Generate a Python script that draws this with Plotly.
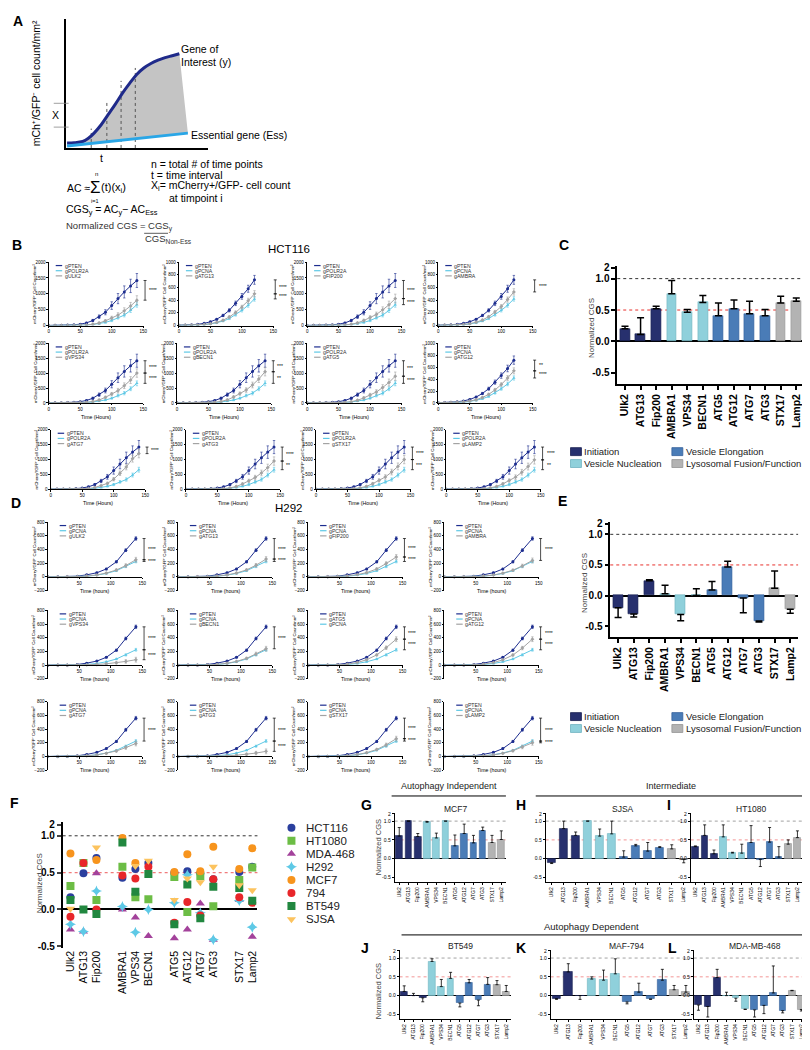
import plotly.graph_objects as go

W, H = 810, 1050
FONT = "Liberation Sans, Arial, Helvetica, sans-serif"

# ============================ DATA ============================
GENES = ["Ulk2", "ATG13", "Fip200", "AMBRA1", "VPS34", "BECN1",
         "ATG5", "ATG12", "ATG7", "ATG3", "STX17", "Lamp2"]
GENE_GROUP = [0, 0, 0, 1, 1, 1, 2, 2, 2, 2, 3, 3]
GROUP_NAMES = ["Initiation", "Vesicle Nucleation", "Vesicle Elongation", "Lysosomal Fusion/Function"]
GROUP_COLORS = ["#27306e", "#8fd0db", "#4a7cb7", "#b3b3b3"]
GROUP_EDGES = ["#1a2152", "#6fb3c0", "#33609a", "#939393"]

# Panel A schematic
A_GENE_X = [0.1, 0.6, 1.2, 1.6, 2.0, 2.5, 3.0, 3.5, 4.0, 4.5, 5.0, 5.5, 6.0, 6.5, 7.0, 7.5, 8.0]
A_GENE_Y = [0.38, 0.40, 0.50, 0.75, 1.15, 1.80, 2.60, 3.40, 4.25, 5.00, 5.70, 6.20, 6.55, 6.80, 7.00, 7.15, 7.30]
A_ESS_X = [0.1, 8.6]
A_ESS_Y = [0.15, 1.15]
A_STEP_X = [1.8, 2.9, 3.9, 4.9]
A_STEP_TOP = [1.5, 3.5, 5.2, 6.2]

# Panel B: HCT116 growth curves (cells/mm2)
T_HCT = [0, 10, 20, 30, 40, 50, 60, 70, 80, 90, 100, 110, 120, 130, 140]
HCT_PTEN = [5, 8, 10, 15, 25, 45, 85, 160, 280, 420, 630, 850, 1060, 1250, 1420]
HCT_PTEN_ERR = [3, 3, 4, 5, 8, 12, 20, 35, 55, 80, 120, 160, 190, 210, 220]
HCT_POLR2A = [2, 2, 3, 5, 8, 12, 20, 35, 60, 100, 160, 250, 330, 480, 660]
HCT_POLR2A_ERR = [2, 2, 2, 3, 4, 5, 6, 10, 15, 25, 35, 45, 55, 65, 80]
HCT_GENE_ERR = [2, 2, 3, 3, 4, 6, 10, 18, 28, 40, 55, 75, 95, 115, 140]
HCT_ULK2 = [3, 3, 4, 6, 8, 12, 20, 40, 80, 150, 240, 330, 465, 615, 800]
HCT_FIP200 = [3, 3, 4, 6, 9, 13, 21, 42, 85, 160, 255, 350, 495, 655, 850]
HCT_VPS34 = [3, 4, 5, 7, 10, 15, 25, 50, 100, 190, 300, 415, 580, 770, 1005]
HCT_BECN1 = [3, 4, 5, 7, 10, 16, 26, 52, 105, 200, 315, 435, 605, 805, 1050]
HCT_ATG5 = [3, 4, 5, 6, 9, 13, 22, 45, 90, 170, 270, 370, 520, 690, 900]
HCT_ATG7 = [3, 4, 5, 7, 11, 17, 30, 60, 120, 200, 340, 540, 750, 1030, 1200]
HCT_ATG3 = [3, 4, 5, 7, 10, 14, 24, 47, 95, 180, 285, 395, 550, 730, 950]
HCT_STX17 = [3, 4, 5, 7, 10, 15, 25, 50, 100, 190, 300, 415, 580, 770, 1000]
HCT_LAMP2 = [3, 4, 5, 7, 10, 15, 25, 50, 98, 185, 295, 410, 575, 765, 990]

T_HCT_P = [0, 10, 20, 30, 40, 50, 60, 70, 80, 90, 100, 110, 120]
HCT_PTEN_P = [5, 8, 12, 20, 35, 60, 100, 160, 240, 350, 460, 580, 720]
HCT_PTEN_P_ERR = [3, 3, 3, 4, 5, 8, 12, 18, 25, 35, 45, 55, 70]
HCT_PCNA = [3, 4, 6, 9, 15, 25, 42, 70, 110, 170, 240, 320, 420]
HCT_PCNA_ERR = [2, 2, 2, 3, 4, 5, 7, 10, 15, 20, 25, 30, 35]
HCT_GENE_P_ERR = [2, 2, 3, 3, 4, 6, 8, 12, 18, 25, 30, 40, 50]
HCT_ATG13_P = [4, 5, 7, 11, 18, 30, 50, 85, 135, 205, 290, 390, 500]
HCT_AMBRA_P = [4, 5, 7, 11, 18, 30, 52, 88, 140, 215, 300, 410, 530]
HCT_ATG12_P = [4, 5, 8, 12, 20, 33, 55, 92, 145, 220, 310, 420, 540]

# (control, gene, significance upper, significance lower)
B_SPEC = [
    ("gPOLR2A", "gULK2", "****", ""), ("gPCNA", "gATG13", "****", "****"),
    ("gPOLR2A", "gFIP200", "****", "****"), ("gPCNA", "gAMBRA", "****", ""),
    ("gPOLR2A", "gVPS34", "****", "****"), ("gPOLR2A", "gBECN1", "***", "**"),
    ("gPOLR2A", "gATG5", "***", "****"), ("gPCNA", "gATG12", "**", "****"),
    ("gPOLR2A", "gATG7", "****", ""), ("gPOLR2A", "gATG3", "****", "**"),
    ("gPOLR2A", "gSTX17", "****", "***"), ("gPOLR2A", "gLAMP2", "****", "**"),
]
HCT_GENE_DATA = {"gULK2": HCT_ULK2, "gFIP200": HCT_FIP200, "gVPS34": HCT_VPS34, "gBECN1": HCT_BECN1,
                 "gATG5": HCT_ATG5, "gATG7": HCT_ATG7, "gATG3": HCT_ATG3, "gSTX17": HCT_STX17,
                 "gLAMP2": HCT_LAMP2, "gATG13": HCT_ATG13_P, "gAMBRA": HCT_AMBRA_P, "gATG12": HCT_ATG12_P}

# Panel D: H292 growth curves
T_H292 = [0, 16, 31, 47, 62, 78, 93, 109, 124, 140]
H_PTEN = [0, 1, 3, 10, 30, 60, 115, 220, 390, 560]
H_PTEN_ERR = [2, 2, 3, 4, 6, 8, 10, 15, 20, 25]
H_PCNA = [0, 0, 1, 4, 10, 25, 50, 90, 150, 225]
H_PCNA_ERR = [2, 2, 2, 3, 4, 5, 8, 10, 15, 20]
H_GENE_ERR = [2, 2, 2, 3, 4, 6, 10, 15, 25, 35]
H_ULK2 = [0, 0, 1, 4, 12, 28, 55, 100, 165, 250]
H_ATG13 = [0, 0, 1, 4, 12, 28, 56, 102, 170, 260]
H_FIP200 = [0, 0, 2, 5, 14, 32, 62, 115, 195, 290]
H_AMBRA = [0, 0, 1, 4, 12, 27, 54, 98, 160, 240]
H_VPS34 = [0, 0, 0, 2, 5, 10, 20, 35, 55, 80]
H_BECN1 = [0, 0, 1, 4, 12, 28, 55, 100, 165, 240]
H_ATG5 = [0, 0, 1, 5, 15, 38, 80, 150, 255, 380]
H_ATG12 = [0, 0, 1, 5, 15, 38, 78, 148, 250, 380]
H_ATG7 = [0, 0, 1, 3, 10, 22, 45, 80, 130, 190]
H_ATG3 = [0, 0, 0, 2, 5, 10, 18, 32, 50, 75]
H_STX17 = [0, 0, 1, 4, 12, 28, 56, 102, 170, 260]
H_LAMP2 = [0, 0, 1, 3, 10, 23, 46, 84, 138, 200]
D_SPEC = [
    ("gULK2", "****", "****"), ("gATG13", "****", "****"), ("gFIP200", "****", "****"), ("gAMBRA", "****", ""),
    ("gVPS34", "****", "****"), ("gBECN1", "****", ""), ("gATG5", "****", "****"), ("gATG12", "****", "****"),
    ("gATG7", "****", ""), ("gATG3", "****", "****"), ("gSTX17", "****", "****"), ("gLAMP2", "****", "****"),
]
H_GENE_DATA = {"gULK2": H_ULK2, "gATG13": H_ATG13, "gFIP200": H_FIP200, "gAMBRA": H_AMBRA,
               "gVPS34": H_VPS34, "gBECN1": H_BECN1, "gATG5": H_ATG5, "gATG12": H_ATG12,
               "gATG7": H_ATG7, "gATG3": H_ATG3, "gSTX17": H_STX17, "gLAMP2": H_LAMP2}

# Panel C (HCT116) and E (H292): normalized CGS; error sign = direction
C_VAL = [0.20, 0.11, 0.52, 0.76, 0.465, 0.62, 0.41, 0.52, 0.44, 0.41, 0.61, 0.64]
C_ERR = [0.04, 0.265, 0.04, 0.21, 0.045, 0.11, 0.20, 0.14, 0.20, 0.10, 0.11, 0.05]
E_VAL = [-0.20, -0.30, 0.24, 0.03, -0.31, 0.0, 0.09, 0.465, -0.04, -0.415, 0.12, -0.225]
E_ERR = [-0.16, -0.05, 0.02, 0.14, -0.10, 0.11, 0.14, 0.095, -0.24, -0.015, 0.28, -0.065]

# Panel F: normalized CGS per cell line
F_LINES = ["HCT116", "HT1080", "MDA-468", "H292", "MCF7", "794", "BT549", "SJSA"]
F_HCT116 = [0.165, 0.49, 0.70, 0.43, 0.55, 0.63, 0.50, 0.52, 0.49, 0.41, 0.51, 0.58]
F_HT1080 = [0.32, 0.63, 0.13, 0.58, 0.165, 0.14, 0.44, -0.035, 0.45, 0.045, 0.40, 0.57]
F_MDA468 = [-0.27, -0.30, 0.49, 0.0, -0.11, -0.36, -0.39, -0.27, 0.08, -0.41, 0.13, -0.37]
F_H292 = [-0.20, -0.30, 0.25, 0.04, -0.31, 0.0, 0.09, 0.47, -0.045, -0.41, 0.12, -0.24]
F_MCF7 = [0.76, None, 0.67, 0.97, 0.63, None, 0.51, 0.75, 0.52, 0.85, 0.55, 0.83]
F_794 = [-0.10, 0.63, 0.0, 0.46, 0.42, 0.58, -0.18, 0.10, -0.08, 0.41, 0.165, 0.09]
F_BT549 = [0.13, 0.0, -0.06, 0.91, 0.24, 0.48, -0.20, 0.34, -0.12, 0.31, 0.29, 0.12]
F_SJSA = [0.01, None, 0.84, None, 0.59, 0.66, 0.13, 0.42, 0.37, 0.58, 0.33, 0.26]
F_COLORS = ["#2b3f9e", "#6cbd45", "#a3429b", "#5ec9e6", "#f7941d", "#e8262a", "#21873f", "#fcc35e"]
F_SYMBOLS = ["circle", "square", "triangle-up", "star-diamond", "circle", "circle", "square", "triangle-down"]

# Panels G-L
G_VAL = [0.60, 1.0, 0.59, 0.97, 0.55, 1.0, 0.34, 0.67, 0.42, 0.75, 0.43, 0.51]
G_ERR = [0.23, 0.0, 0.08, 0.02, 0.13, 0.0, 0.29, 0.25, 0.20, 0.09, 0.19, 0.23]
H_VAL = [-0.11, 0.80, 0.62, 1.0, 0.60, 0.66, 0.04, 0.34, 0.20, 0.30, 0.26, -0.02]
H_ERR = [-0.02, 0.20, 0.09, 0.0, 0.19, 0.34, 0.17, 0.04, 0.23, 0.02, 0.11, -0.09]
I_VAL = [0.32, 0.62, 0.13, 0.58, 0.15, 0.145, 0.43, -0.02, 0.44, 0.04, 0.385, 0.56]
I_ERR = [0.02, 0.28, 0.10, 0.32, 0.02, 0.24, 0.45, -0.19, 0.39, 0.28, 0.115, 0.18]
J_VAL = [0.11, 0.0, -0.06, 0.91, 0.24, 0.46, -0.20, 0.34, -0.12, 0.30, 0.29, 0.11]
J_ERR = [0.15, 0.06, -0.105, 0.07, 0.19, 0.16, -0.10, 0.09, -0.15, 0.18, 0.11, 0.16]
K_VAL = [-0.08, 0.63, 0.0, 0.44, 0.41, 0.58, -0.17, 0.09, -0.09, 0.41, 0.155, 0.09]
K_ERR = [-0.02, 0.22, -0.10, 0.06, 0.27, 0.40, -0.05, 0.24, -0.01, 0.29, 0.115, 0.18]
L_VAL = [-0.25, -0.29, 0.48, 0.0, -0.07, -0.36, -0.38, -0.26, 0.07, -0.40, 0.13, -0.37]
L_ERR = [-0.14, -0.28, 0.22, 0.09, -0.08, -0.01, -0.19, -0.22, 0.72, -0.06, 0.01, -0.04]

C_PTEN, C_CTRL, C_GENE = "#1d2d8f", "#5ec8e5", "#a3a3a3"

# ============================ HELPERS ============================
fig = go.Figure()
LAYOUT, ANN, SHP = {}, [], []
AXN = [0]


def add_axes(x0, x1, y0, y1, xcfg, ycfg):
    AXN[0] += 1
    s = "" if AXN[0] == 1 else str(AXN[0])
    xcfg, ycfg = dict(xcfg), dict(ycfg)
    xcfg.setdefault("anchor", "y" + s)
    ycfg["anchor"] = "x" + s
    xcfg["domain"] = [x0 / W, x1 / W]
    ycfg["domain"] = [1 - y1 / H, 1 - y0 / H]
    LAYOUT["xaxis" + s] = xcfg
    LAYOUT["yaxis" + s] = ycfg
    return "x" + s, "y" + s


def txt(x, y, s, size=11, xa="left", ya="middle", angle=0, bold=False, color="black"):
    ANN.append(dict(x=x / W, y=1 - y / H, xref="paper", yref="paper", text=s, showarrow=False,
                    xanchor=xa, yanchor=ya, textangle=angle, borderpad=0,
                    font=dict(family=FONT, size=size, color=color, weight="bold" if bold else "normal")))


def pline(x0, y0, x1, y1, color="black", width=1, dash="solid"):
    SHP.append(dict(type="line", xref="paper", yref="paper", x0=x0 / W, y0=1 - y0 / H,
                    x1=x1 / W, y1=1 - y1 / H, line=dict(color=color, width=width, dash=dash)))


def prect(x0, y0, x1, y1, color, edge):
    SHP.append(dict(type="rect", xref="paper", yref="paper", x0=x0 / W, y0=1 - y1 / H,
                    x1=x1 / W, y1=1 - y0 / H, fillcolor=color, line=dict(color=edge, width=0.8)))


# ============================ PANEL A ============================
axA = dict(showline=True, linecolor="black", linewidth=2, showticklabels=False, ticks="",
           showgrid=False, zeroline=False)
xa, ya = add_axes(57, 200, 7, 137, dict(axA, range=[0, 10]), dict(axA, range=[0, 10]))
fig.add_trace(go.Scatter(x=A_GENE_X + A_ESS_X[::-1], y=A_GENE_Y + A_ESS_Y[::-1], xaxis=xa, yaxis=ya,
                         fill="toself", fillcolor="#c4c4c4", mode="lines", line=dict(width=0)))
for sx, st in zip(A_STEP_X, A_STEP_TOP):
    fig.add_trace(go.Scatter(x=[sx, sx], y=[0, st], xaxis=xa, yaxis=ya, mode="lines",
                             line=dict(color="#555555", width=1, dash="dot")))
fig.add_trace(go.Scatter(x=A_GENE_X, y=A_GENE_Y, xaxis=xa, yaxis=ya, mode="lines",
                         line=dict(color="#1f2a8a", width=3, shape="spline")))
fig.add_trace(go.Scatter(x=A_ESS_X, y=A_ESS_Y, xaxis=xa, yaxis=ya, mode="lines",
                         line=dict(color="#2aa6e6", width=3)))
pline(45, 92, 60, 92, "#888", 0.8)
pline(45, 116, 60, 116, "#888", 0.8)
txt(47, 104, "X", 10.5, "center")
txt(93, 147, "t", 10.5, "center")
txt(28, 72, "mCh⁺/GFP⁻ cell count/mm²", 10.5, "center", angle=-90)
txt(172, 37, "Gene of", 10.5)
txt(172, 50, "Interest (y)", 10.5)
txt(182, 124, "Essential gene (Ess)", 10.5)
txt(142, 153, "n = total # of time points", 10.5)
txt(142, 164, "t = time interval", 10.5)
txt(142, 175, "X<sub>i</sub>= mCherry+/GFP- cell count", 10.5)
txt(160, 187, "at timpoint i", 10.5)
txt(57, 177, "AC ≈", 10.5)
txt(87, 177, "Σ", 17, "center")
txt(92, 177, "(t)(x<sub>i</sub>)", 11)
txt(88, 163, "n", 6, "center")
txt(87, 190, "i=1", 5.5, "center")
txt(56, 200, "CGS<sub>y</sub> = AC<sub>y</sub>− AC<sub>Ess</sub>", 10.5)
txt(56, 216, "Normalized CGS = CGS<sub>y</sub>", 9.5, color="#333")
pline(136, 223, 160, 223, "#333", 0.8)
txt(136, 229, "CGS<sub>Non-Ess</sub>", 9.5, color="#333")

# ============================ GROWTH PLOTS ============================
def growth_plot(x0, ytop, ybot, t, series, names, yrange, ytv, neg, sig, xtitle, leg_dx):
    x1 = x0 + 95
    ax = dict(showline=True, linecolor="black", linewidth=0.8, ticks="outside", ticklen=1.5,
              tickwidth=0.6, tickcolor="black", showgrid=False, zeroline=False,
              tickfont=dict(family=FONT, size=4.5, color="black"))
    xcfg = dict(ax, range=[0, 150], tickvals=[50, 100, 150] if neg else [0, 50, 100, 150])
    ycfg = dict(ax, range=yrange, tickvals=ytv)

    def ypx(v):
        return ybot - (v - yrange[0]) / (yrange[1] - yrange[0]) * (ybot - ytop)

    def xpx(v):
        return x0 + v / 150 * 95

    if neg:
        xcfg["anchor"] = "free"
        xcfg["position"] = 1 - ypx(0) / H
    xs, ys = add_axes(x0, x1, ytop, ybot, xcfg, ycfg)
    for (yv, ev, col, sym) in series:
        fig.add_trace(go.Scatter(x=t[:len(yv)], y=yv, xaxis=xs, yaxis=ys, mode="lines+markers",
                                 line=dict(color=col, width=1), marker=dict(color=col, size=3, symbol=sym),
                                 error_y=dict(type="data", array=ev, color=col, thickness=0.6, width=1.2)))
    for i, (nm, col) in enumerate(names):
        ly = ytop + 3.5 + i * 5.2
        pline(x0 + leg_dx, ly, x0 + leg_dx + 6.5, ly, col, 1.2)
        txt(x0 + leg_dx + 8, ly, nm, 5.2, color="#333")
    txt(x0 - 14, (ytop + ybot) / 2, "mCherry⁺/GFP⁻ Cell Count/mm²", 4.3, "center", angle=-90)
    zero = ypx(0)
    if xtitle:
        txt((x0 + x1) / 2, zero + 14, xtitle, 5.2, "center")
    ends = sorted([s[0][-1] for s in series], reverse=True)
    bx = xpx(153)
    for (hi, lo), lab in zip([(ends[0], ends[1]), (ends[1], ends[2])], sig):
        if not lab:
            continue
        yh, yl = ypx(hi), ypx(lo)
        pline(bx - 1.5, yh, bx + 1.5, yh, "black", 0.7)
        pline(bx, yh, bx, yl, "black", 0.7)
        pline(bx - 1.5, yl, bx + 1.5, yl, "black", 0.7)
        txt(bx + 3, (yh + yl) / 2, lab, 5)


B_COLS = [[40, 171, 300, 432], [40, 169, 300, 432], [42, 178, 309, 440]]
B_ROWS = [(252, 316), (334, 394), (421, 481)]
for k, (ctrl, gene, s1, s2) in enumerate(B_SPEC):
    r, c = divmod(k, 4)
    if ctrl == "gPCNA":
        t = T_HCT_P
        ser = [(HCT_PTEN_P, HCT_PTEN_P_ERR, C_PTEN, "circle"), (HCT_PCNA, HCT_PCNA_ERR, C_CTRL, "triangle-up"),
               (HCT_GENE_DATA[gene], HCT_GENE_P_ERR, C_GENE, "diamond")]
        yr, ytv = [0, 1000], [0, 200, 400, 600, 800, 1000]
    else:
        t = T_HCT
        ser = [(HCT_PTEN, HCT_PTEN_ERR, C_PTEN, "circle"), (HCT_POLR2A, HCT_POLR2A_ERR, C_CTRL, "triangle-up"),
               (HCT_GENE_DATA[gene], HCT_GENE_ERR, C_GENE, "diamond")]
        yr, ytv = [0, 2000], [0, 500, 1000, 1500, 2000]
    names = [("gPTEN", C_PTEN), (ctrl, C_CTRL), (gene, C_GENE)]
    growth_plot(B_COLS[r][c], B_ROWS[r][0], B_ROWS[r][1], t, ser, names, yr, ytv, False, (s1, s2),
                "Time (Hours)" if r > 0 else "", 7)

D_COLS = [39, 170, 301, 438]
D_ROWS = [(514, 583), (603, 672), (695, 764)]
for k, (gene, s1, s2) in enumerate(D_SPEC):
    r, c = divmod(k, 4)
    ser = [(H_PTEN, H_PTEN_ERR, C_PTEN, "circle"), (H_PCNA, H_PCNA_ERR, C_CTRL, "triangle-up"),
           (H_GENE_DATA[gene], H_GENE_ERR, C_GENE, "diamond")]
    names = [("gPTEN", C_PTEN), ("gPCNA", C_CTRL), (gene, C_GENE)]
    if gene == "gATG5":
        names = [("gPTEN", C_PTEN), (gene, C_GENE), ("gPCNA", C_CTRL)]
    growth_plot(D_COLS[c], D_ROWS[r][0], D_ROWS[r][1], T_H292, ser, names, [-200, 800],
                [-200, 0, 200, 400, 600, 800], True, (s1, s2), "Time (hours)", 12)

# ============================ BAR PANELS ============================
def bar_panel(x0, x1, y0, y1, yr, two_val, vals, errs, st):
    ax = dict(showline=True, linecolor="black", linewidth=st["lw"], ticks="outside", ticklen=st["tl"],
              tickwidth=st["lw"], tickcolor="black", showgrid=False)
    xcfg = dict(ax, range=[-0.5, 11.5], tickvals=list(range(12)), ticktext=GENES, tickangle=-90,
                zeroline=False, tickfont=dict(family=FONT, size=st["xfs"], color="black", weight=st["w"]))
    ycfg = dict(ax, range=yr, tickvals=[-0.5, 0, 0.5, 1.0, two_val],
                ticktext=["-0.5", "0.0", "0.5", "1.0", "2"], zeroline=True, zerolinecolor="black",
                zerolinewidth=st["zw"], tickfont=dict(family=FONT, size=st["yfs"], color="black", weight=st["w"]))
    xs, ys = add_axes(x0, x1, y0, y1, xcfg, ycfg)
    up = [max(e, 0) for e in errs]
    dn = [max(-e, 0) for e in errs]
    fig.add_trace(go.Bar(x=list(range(12)), y=vals, xaxis=xs, yaxis=ys, width=st["bw"],
                         marker=dict(color=[GROUP_COLORS[g] for g in GENE_GROUP],
                                     line=dict(color=[GROUP_EDGES[g] for g in GENE_GROUP], width=0.6)),
                         error_y=dict(type="data", symmetric=False, array=up, arrayminus=dn,
                                      color="black", thickness=st["et"], width=st["ew"])))
    SHP.append(dict(type="line", xref=xs + " domain", yref=ys, x0=0, x1=1, y0=1, y1=1, layer="below",
                    line=dict(color=st["c1"], width=st["rw"], dash="dot")))
    SHP.append(dict(type="line", xref=xs + " domain", yref=ys, x0=0, x1=1, y0=0.5, y1=0.5, layer="below",
                    line=dict(color=st["c5"], width=st["rw"], dash="dot")))
    return xs, ys


BIG = dict(lw=1.5, tl=4, xfs=10.5, yfs=10, w="bold", zw=2, bw=0.64, et=1.5, ew=3.5, rw=1,
           c1="#333333", c5="#e8312d")
SMALL = dict(lw=0.8, tl=2, xfs=5, yfs=5, w="normal", zw=1.2, bw=0.72, et=0.8, ew=1.5, rw=0.8,
             c1="#8a8a8a", c5="#f07b7b")

# C
bar_panel(612, 800, 256, 375, [-0.68, 1.2], 1.17, C_VAL, C_ERR, BIG)
txt(586, 318, "Normalized CGS", 8, "center", angle=-90, color="#444")
# E
bar_panel(605, 794, 514, 630, [-0.68, 1.2], 1.17, E_VAL, E_ERR, BIG)
txt(579, 575, "Normalized CGS", 8, "center", angle=-90, color="#444")

# legends for C and E
for ly in (443, 710):
    for i, name in enumerate(GROUP_NAMES):
        col, row = divmod(i, 2)
        sx = 565 + col * 102
        sy = ly + row * 12
        prect(sx, sy - 4, sx + 11, sy + 4, GROUP_COLORS[i], GROUP_EDGES[i])
        txt(sx + 13, sy, name, 9.5, color="#222")

# G-L small panels
SMALL_PANELS = [
    (388, 500, 807, 877, G_VAL, G_ERR, "MCF7"),
    (540, 685, 807, 877, H_VAL, H_ERR, "SJSA"),
    (686, 798, 807, 877, I_VAL, I_ERR, "HT1080"),
    (393, 505, 945, 1015, J_VAL, J_ERR, "BT549"),
    (545, 687, 945, 1015, K_VAL, K_ERR, "MAF-794"),
    (689, 802, 945, 1015, L_VAL, L_ERR, "MDA-MB-468"),
]
for (x0, x1, y0, y1, v, e, title) in SMALL_PANELS:
    bar_panel(x0, x1, y0, y1, [-0.63, 1.22], 1.19, v, e, SMALL)
    txt((x0 + x1) / 2 + 5, y0 - 4, title, 8.5, "center", color="#222")
txt(372, 842, "Normalized CGS", 7.5, "center", angle=-90, color="#444")
txt(372, 987, "Normalized CGS", 7.5, "center", angle=-90, color="#444")

txt(443, 780, "Autophagy Independent", 9, "center", color="#222")
pline(385, 790, 500, 790, "black", 1)
txt(666, 780, "Intermediate", 9, "center", color="#222")
pline(530, 790, 800, 790, "black", 1)
txt(586, 922, "Autophagy Dependent", 9.5, "center", color="#222")
pline(395, 930, 807, 930, "black", 1)

# ============================ PANEL F ============================
F_POS = [i + g + 1 for i, g in enumerate(GENE_GROUP)]
xf, yf = add_axes(54, 250, 816, 943,
                  dict(range=[0.4, 15.4], tickvals=F_POS, ticktext=GENES, tickangle=-90, showline=False,
                       ticks="", showgrid=False, zeroline=False,
                       tickfont=dict(family=FONT, size=10.5, color="black")),
                  dict(range=[-0.52, 1.19], tickvals=[-0.5, 0, 0.5, 1.0, 1.15],
                       ticktext=["-0.5", "0.0", "0.5", "1.0", "2"], showline=True, linecolor="black",
                       linewidth=1.5, ticks="outside", ticklen=4, tickwidth=1.5, showgrid=False,
                       zeroline=True, zerolinecolor="black", zerolinewidth=2,
                       tickfont=dict(family=FONT, size=10, color="black", weight="bold")))
SHP.append(dict(type="line", xref=xf + " domain", yref=yf, x0=0, x1=1, y0=1, y1=1, layer="below",
                line=dict(color="#333", width=1, dash="dot")))
SHP.append(dict(type="line", xref=xf + " domain", yref=yf, x0=0, x1=1, y0=0.5, y1=0.5, layer="below",
                line=dict(color="#f07b7b", width=1.2, dash="dot")))
F_DATA = [F_HCT116, F_HT1080, F_MDA468, F_H292, F_MCF7, F_794, F_BT549, F_SJSA]
for vals, col, sym in zip(F_DATA, F_COLORS, F_SYMBOLS):
    fig.add_trace(go.Scatter(x=F_POS, y=vals, xaxis=xf, yaxis=yf, mode="markers",
                             marker=dict(color=col, symbol=sym, size=8, line=dict(width=0))))
txt(30, 878, "Normalized CGS", 8, "center", angle=-90, color="#444")

# F legend (own invisible axes)
hid = dict(visible=False, showgrid=False, zeroline=False)
xl, yl = add_axes(278, 340, 814, 922, dict(hid, range=[0, 10]), dict(hid, range=[7.6, -0.6]))
for i, (nm, col, sym) in enumerate(zip(F_LINES, F_COLORS, F_SYMBOLS)):
    fig.add_trace(go.Scatter(x=[1], y=[i], xaxis=xl, yaxis=yl, mode="markers",
                             marker=dict(color=col, symbol=sym, size=8)))
    ANN.append(dict(x=3, y=i, xref=xl, yref=yl, text=nm, showarrow=False, xanchor="left",
                    font=dict(family=FONT, size=11.5, color="#222")))

# ============================ TITLES / LETTERS ============================
txt(282, 239, "HCT116", 11.5, "center")
txt(282, 500, "H292", 11.5, "center")
for L, x, y in [("A", 9, 9), ("B", 8, 235), ("C", 558, 235), ("D", 7, 495), ("E", 557, 493),
                ("F", 6, 797), ("G", 360, 799), ("H", 515, 799), ("I", 664, 799),
                ("J", 358, 943), ("K", 515, 943), ("L", 668, 943)]:
    txt(x, y, L, 14, "center", bold=True)

fig.update_traces(showlegend=False, hoverinfo="skip")
fig.update_layout(**LAYOUT)
fig.update_layout(width=W, height=H, autosize=False, margin=dict(l=0, r=0, t=0, b=0),
                  paper_bgcolor="white", plot_bgcolor="rgba(0,0,0,0)", showlegend=False,
                  annotations=ANN, shapes=SHP, bargap=0,
                  font=dict(family=FONT, color="black"))
fig.write_html("out.html")
